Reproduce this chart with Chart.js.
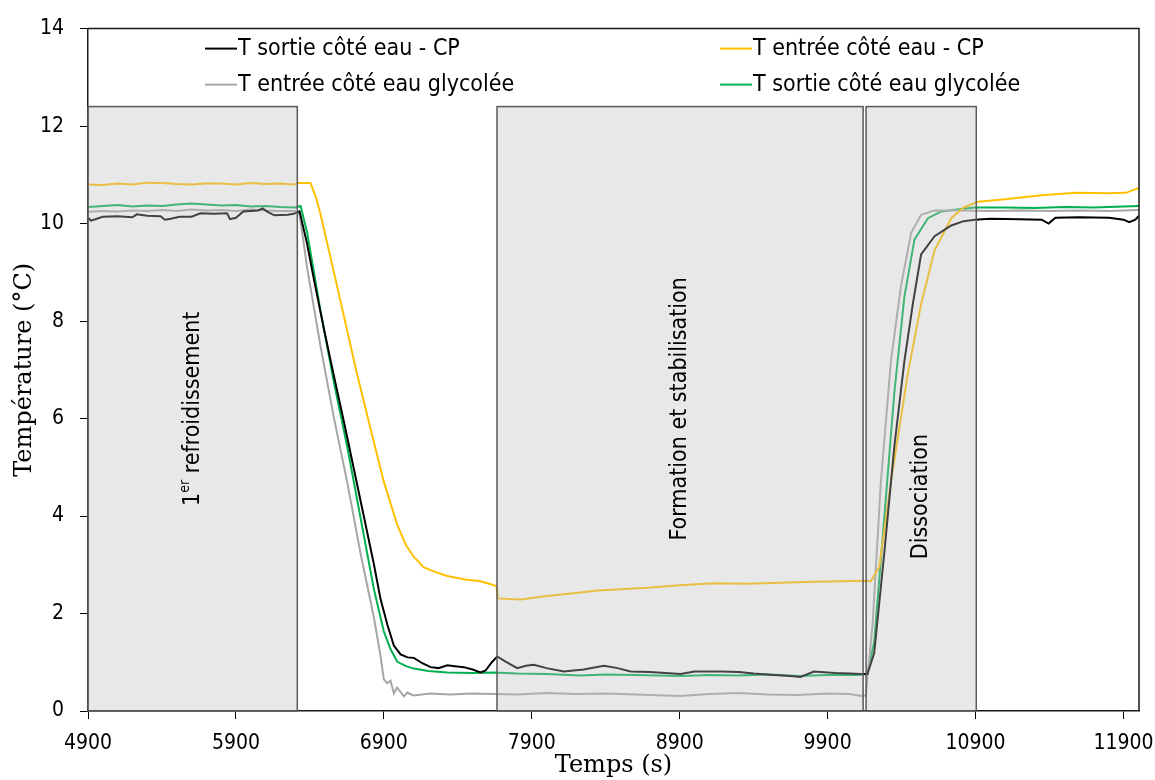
<!DOCTYPE html>
<html lang="fr">
<head>
<meta charset="utf-8">
<title>Températures eau / eau glycolée</title>
<script src="https://cdn.jsdelivr.net/npm/chart.js@4.4.1/dist/chart.umd.min.js"></script>
<style>
  html, body { margin: 0; padding: 0; background: #fff; }
  #wrap { width: 1155px; height: 780px; position: relative; }
</style>
</head>
<body>
<div id="wrap"><canvas id="chart"></canvas></div>
<script>
// --- data ---
const seriesNames = ['T sortie côté eau - CP', 'T entrée côté eau - CP', 'T entrée côté eau glycolée', 'T sortie côté eau glycolée'];

const tSortieCP = [4900, 4920, 4960, 5000, 5100, 5200, 5230, 5300, 5390, 5420, 5460, 5520, 5600, 5660, 5750, 5840, 5860, 5900, 5950, 6050, 6080, 6120, 6160, 6250, 6290, 6330,
  6380, 6427, 6494, 6562, 6629, 6697, 6765, 6832, 6878, 6923, 6968, 7013, 7060, 7103, 7160, 7216, 7270, 7329, 7380, 7441, 7500, 7554, 7588, 7630, 7667,
  7720, 7802, 7860, 7914, 8000, 8117, 8250, 8388, 8480, 8568, 8700, 8906, 9000, 9177, 9300, 9400, 9537, 9650, 9717, 9807, 9950, 10050, 10123, 10169,
  10215, 10283, 10351, 10419, 10476, 10532, 10623, 10736, 10820, 10895, 11000, 11200, 11347, 11394, 11440, 11600, 11803, 11900, 11939, 11980, 12005];
const vSortieCP = [10.12, 10.06, 10.10, 10.14, 10.15, 10.13, 10.19, 10.16, 10.15, 10.08, 10.10, 10.14, 10.14, 10.21, 10.20, 10.21, 10.09, 10.12, 10.25, 10.27, 10.31, 10.23, 10.17, 10.18, 10.20, 10.25,
  9.60, 8.86, 7.85, 6.88, 5.95, 4.97, 3.99, 3.02, 2.29, 1.78, 1.34, 1.16, 1.10, 1.09, 0.98, 0.90, 0.88, 0.94, 0.92, 0.90, 0.85, 0.79, 0.83, 1.00, 1.12,
  1.02, 0.88, 0.93, 0.95, 0.88, 0.81, 0.85, 0.93, 0.88, 0.81, 0.80, 0.76, 0.81, 0.81, 0.80, 0.77, 0.74, 0.72, 0.70, 0.81, 0.78, 0.77, 0.76, 0.76,
  1.19, 3.24, 5.43, 7.18, 8.35, 9.37, 9.74, 9.96, 10.05, 10.08, 10.10, 10.09, 10.08, 10.00, 10.12, 10.13, 10.12, 10.08, 10.03, 10.08, 10.16];

const tEntreeCP = [4900, 5000, 5100, 5200, 5300, 5400, 5500, 5600, 5700, 5800, 5900, 6000, 6100, 6200, 6300, 6320, 6404, 6440, 6472, 6573, 6720, 6810, 6900, 6991, 7050, 7101, 7168, 7250, 7329, 7450, 7554, 7644, 7662,
  7670, 7824, 8000, 8200, 8343, 8500, 8681, 8900, 9129, 9350, 9582, 9805, 10000, 10123, 10192,
  10249, 10328, 10441, 10532, 10623, 10736, 10820, 10918, 11100, 11347, 11577, 11800, 11915, 12005];
const vEntreeCP = [10.80, 10.79, 10.82, 10.80, 10.84, 10.83, 10.81, 10.80, 10.82, 10.82, 10.80, 10.83, 10.81, 10.82, 10.80, 10.83, 10.83, 10.55, 10.19, 8.86, 6.90, 5.79, 4.70, 3.82, 3.40, 3.17, 2.95, 2.85, 2.77, 2.70, 2.66, 2.58, 2.55,
  2.31, 2.29, 2.36, 2.42, 2.47, 2.50, 2.53, 2.58, 2.62, 2.61, 2.63, 2.65, 2.66, 2.67, 2.66,
  2.95, 4.70, 6.90, 8.35, 9.45, 10.11, 10.33, 10.45, 10.50, 10.58, 10.63, 10.62, 10.63, 10.73];

const tEntreeGly = [4900, 5000, 5100, 5200, 5300, 5400, 5500, 5600, 5700, 5800, 5900, 6000, 6100, 6200, 6300, 6330,
  6382, 6472, 6562, 6652, 6742, 6832, 6878, 6900, 6923, 6945, 6968, 6990, 7013, 7035, 7058, 7100, 7216, 7350, 7500, 7650,
  7800, 8000, 8200, 8400, 8600, 8800, 8906, 9100, 9300, 9500, 9700, 9900, 10050, 10130, 10158,
  10204, 10260, 10328, 10396, 10465, 10532, 10623, 10800, 11000, 11200, 11400, 11600, 11800, 12005];
const vEntreeGly = [10.24, 10.26, 10.25, 10.27, 10.26, 10.28, 10.26, 10.29, 10.27, 10.28, 10.26, 10.29, 10.27, 10.26, 10.26, 10.20,
  9.08, 7.48, 6.02, 4.70, 3.24, 1.93, 1.12, 0.65, 0.57, 0.62, 0.36, 0.48, 0.39, 0.30, 0.38, 0.32, 0.36, 0.34, 0.36, 0.35,
  0.34, 0.37, 0.35, 0.36, 0.34, 0.32, 0.31, 0.35, 0.37, 0.34, 0.33, 0.36, 0.35, 0.31, 0.32,
  1.78, 4.70, 7.18, 8.72, 9.81, 10.18, 10.27, 10.27, 10.26, 10.27, 10.26, 10.27, 10.26, 10.28];

const tSortieGly = [4900, 5000, 5100, 5200, 5300, 5400, 5500, 5600, 5700, 5800, 5900, 6000, 6100, 6200, 6300, 6337,
  6382, 6472, 6562, 6652, 6742, 6832, 6900, 6945, 6991, 7050, 7103, 7200, 7329, 7500, 7644,
  7800, 8000, 8230, 8400, 8600, 8906, 9100, 9300, 9500, 9700, 9900, 10100, 10169,
  10215, 10283, 10351, 10419, 10487, 10578, 10669, 10800, 10895, 11100, 11300, 11500, 11700, 11900, 12005];
const vSortieGly = [10.34, 10.36, 10.38, 10.35, 10.37, 10.36, 10.39, 10.41, 10.39, 10.37, 10.38, 10.35, 10.36, 10.34, 10.33, 10.36,
  9.81, 8.21, 6.75, 5.43, 3.97, 2.51, 1.63, 1.27, 1.01, 0.92, 0.87, 0.82, 0.79, 0.78, 0.79,
  0.77, 0.76, 0.73, 0.75, 0.74, 0.72, 0.74, 0.73, 0.75, 0.72, 0.74, 0.74, 0.76,
  1.42, 3.97, 6.53, 8.50, 9.67, 10.11, 10.25, 10.30, 10.33, 10.33, 10.32, 10.34, 10.33, 10.35, 10.36];

const xTicks = [4900, 5900, 6900, 7900, 8900, 9900, 10900, 11900];
const yTicks = [0, 2, 4, 6, 8, 10, 12, 14];

// phases (s) and their top (°C)
const phaseStart = [4900, 7665, 10160];
const phaseEnd = [6315, 10140, 10905];
const phaseTop = 12.4;
const phaseLabels = ['1er refroidissement', 'Formation et stabilisation', 'Dissociation'];

const colors = ['#000000', '#FFC000', '#A6A6A6', '#00B050'];
const narrow = "'Liberation Sans Narrow', 'Arial Narrow', 'DejaVu Sans Condensed', sans-serif";
const serif = "'DejaVu Serif', 'Liberation Serif', serif";

function toPoints(ts, vs) {
    return ts.map((t, i) => ({ x: t, y: vs[i] }));
}

const datasets = [
    toPoints(tSortieCP, vSortieCP),
    toPoints(tEntreeCP, vEntreeCP),
    toPoints(tEntreeGly, vEntreeGly),
    toPoints(tSortieGly, vSortieGly)
].map((pts, i) => ({
    label: seriesNames[i],
    data: pts,
    borderColor: colors[i],
    backgroundColor: colors[i],
    borderWidth: 2,
    pointRadius: 0,
    tension: 0,
    fill: false
}));

// shaded phase boxes drawn over the lines, with rotated captions
const phasePlugin = {
    id: 'phases',
    afterDatasetsDraw(chart, args, opts) {
        const { ctx, scales: { x, y } } = chart;
        const yb = y.getPixelForValue(0);
        const yt = y.getPixelForValue(phaseTop);
        ctx.save();
        for (let i = 0; i < phaseStart.length; i++) {
            const x0 = x.getPixelForValue(phaseStart[i]);
            const x1 = x.getPixelForValue(phaseEnd[i]);
            ctx.fillStyle = opts.fill;
            ctx.fillRect(x0, yt, x1 - x0, yb - yt);
            ctx.strokeStyle = opts.border;
            ctx.lineWidth = 1.5;
            ctx.strokeRect(x0, yt, x1 - x0, yb - yt);

            // caption
            ctx.save();
            ctx.translate((x0 + x1) / 2, y.getPixelForValue(opts.labelAt[i]));
            ctx.rotate(-Math.PI / 2);
            ctx.fillStyle = '#000';
            ctx.textBaseline = 'middle';
            ctx.textAlign = 'left';
            const big = opts.size + 'px ' + narrow;
            const small = Math.round(opts.size * 0.62) + 'px ' + narrow;
            const m = phaseLabels[i].match(/^(\d+)(er)(\s.*)$/);
            const parts = m ? [[m[1], big, 0], [m[2], small, -7], [m[3], big, 0]] : [[phaseLabels[i], big, 0]];
            let total = 0;
            parts.forEach(p => { ctx.font = p[1]; total += ctx.measureText(p[0]).width; });
            let cx = -total / 2;
            parts.forEach(p => {
                ctx.font = p[1];
                ctx.fillText(p[0], cx, p[2]);
                cx += ctx.measureText(p[0]).width;
            });
            ctx.restore();
        }
        ctx.restore();
    },
    afterDraw(chart) {
        // top and right sides of the frame
        const { ctx, chartArea: a } = chart;
        ctx.save();
        ctx.strokeStyle = '#1a1a1a';
        ctx.lineWidth = 1.5;
        ctx.beginPath();
        ctx.moveTo(a.left, a.top);
        ctx.lineTo(a.right, a.top);
        ctx.lineTo(a.right, a.bottom);
        ctx.stroke();
        ctx.restore();
    }
};

// two-column legend in the top of the plot area
const legendPlugin = {
    id: 'gridLegend',
    afterDraw(chart, args, opts) {
        const { ctx, chartArea: a } = chart;
        ctx.save();
        ctx.font = opts.size + 'px ' + narrow;
        ctx.textBaseline = 'middle';
        ctx.textAlign = 'left';
        chart.data.datasets.forEach((ds, i) => {
            const lx = a.left + opts.cols[i % 2];
            const ly = a.top + opts.rows[Math.floor(i / 2)];
            ctx.strokeStyle = ds.borderColor;
            ctx.lineWidth = 2;
            ctx.beginPath();
            ctx.moveTo(lx, ly);
            ctx.lineTo(lx + opts.lineLen, ly);
            ctx.stroke();
            ctx.fillStyle = '#000';
            ctx.fillText(ds.label, lx + opts.lineLen + 1, ly);
        });
        ctx.restore();
    }
};

new Chart(document.getElementById('chart'), {
    type: 'line',
    data: { datasets: datasets },
    options: {
        responsive: true,
        maintainAspectRatio: false,
        animation: false,
        layout: { padding: { left: 0, right: 16, top: 27, bottom: 0 } },
        scales: {
            x: {
                type: 'linear',
                min: 4900,
                max: 12005,
                afterBuildTicks: scale => { scale.ticks = xTicks.map(v => ({ value: v })); },
                afterFit: scale => { scale.height = 69; scale.paddingLeft = 0; scale.paddingRight = 0; },
                ticks: { color: '#000', font: { family: narrow, size: 21 }, padding: 12, maxRotation: 0, callback: v => String(v) },
                grid: { drawOnChartArea: false, drawTicks: true, tickLength: 8, color: '#000' },
                border: { color: '#1a1a1a', width: 1.5 },
                title: { display: true, text: 'Temps (s)', color: '#000', font: { family: serif, size: 24 }, padding: { top: 0, bottom: 0 } }
            },
            y: {
                min: 0,
                max: 14,
                afterBuildTicks: scale => { scale.ticks = yTicks.map(v => ({ value: v })); },
                afterFit: scale => { scale.width = 88; },
                ticks: { color: '#000', font: { family: narrow, size: 21 }, padding: 16 },
                grid: { drawOnChartArea: false, drawTicks: true, tickLength: 8, color: '#000' },
                border: { color: '#1a1a1a', width: 1.5 },
                title: { display: true, text: 'Température (°C)', color: '#000', font: { family: serif, size: 24 }, padding: { top: 10, bottom: 0 } }
            }
        },
        plugins: {
            legend: { display: false },
            tooltip: { enabled: false },
            phases: { fill: 'rgba(190,190,190,0.35)', border: '#595959', labelAt: [6.2, 6.2, 4.4], size: 23 },
            gridLegend: { cols: [117, 632], rows: [20, 56], lineLen: 32, size: 23 }
        }
    },
    plugins: [phasePlugin, legendPlugin]
});
</script>
</body>
</html>
